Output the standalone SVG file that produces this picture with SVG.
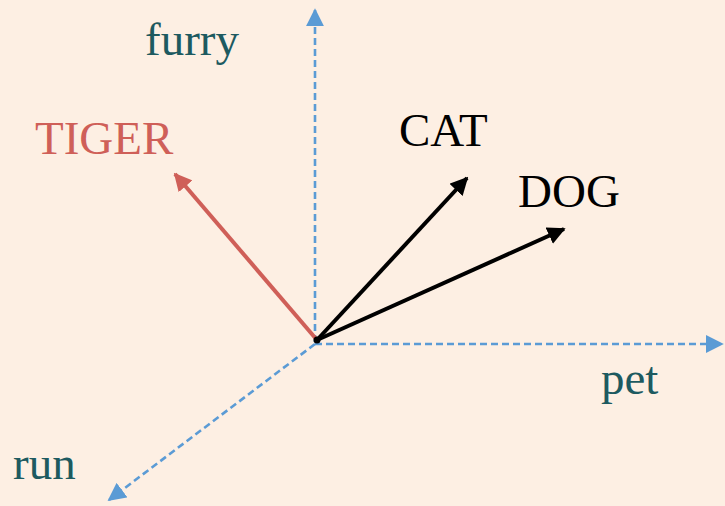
<svg xmlns="http://www.w3.org/2000/svg" width="725" height="506" viewBox="0 0 725 506">
<defs>
<style>
.axis{stroke:#5b9bd5;stroke-width:2.6;stroke-dasharray:7 4;fill:none}
.vec{stroke-width:4;fill:none}
.lbl{font-family:"Liberation Serif",serif;font-size:47px}
.ax{fill:#1d5a60}
</style>
<marker id="ab" viewBox="0 0 10 10" refX="9" refY="5" markerWidth="7" markerHeight="7" orient="auto" markerUnits="strokeWidth"><path d="M0,0 L10,5 L0,10 z" fill="#5b9bd5"/></marker>
<marker id="ak" viewBox="0 0 10 10" refX="9" refY="5" markerWidth="4.5" markerHeight="4.5" orient="auto" markerUnits="strokeWidth"><path d="M0,0 L10,5 L0,10 z" fill="#000"/></marker>
<marker id="ar" viewBox="0 0 10 10" refX="9" refY="5" markerWidth="4.5" markerHeight="4.5" orient="auto" markerUnits="strokeWidth"><path d="M0,0 L10,5 L0,10 z" fill="#cf5f58"/></marker>
</defs>
<rect width="725" height="506" fill="#fdefe3"/>
<g id="connectors">
<line class="axis" x1="315" y1="342" x2="315" y2="10" marker-end="url(#ab)"/>
<line class="axis" x1="315" y1="344" x2="722" y2="344" marker-end="url(#ab)"/>
<line class="axis" x1="315" y1="344" x2="109" y2="500" marker-end="url(#ab)"/>
<line class="vec" stroke="#cf5f58" x1="317" y1="340" x2="175" y2="174" marker-end="url(#ar)"/>
<line class="vec" stroke="#000" x1="317" y1="340" x2="467" y2="178" marker-end="url(#ak)"/>
<line class="vec" stroke="#000" x1="317" y1="340" x2="564" y2="229" marker-end="url(#ak)"/>
<circle cx="317" cy="340" r="3.5" fill="#000"/>
</g>
<g id="furry"><text class="lbl ax" x="145" y="55">furry</text></g>
<g id="pet"><text class="lbl ax" x="601" y="394">pet</text></g>
<g id="run"><text class="lbl ax" x="13" y="479">run</text></g>
<g id="tiger"><text class="lbl" fill="#cf5f58" x="35" y="154">TIGER</text></g>
<g id="cat"><text class="lbl" fill="#000" x="399" y="146">CAT</text></g>
<g id="dog"><text class="lbl" fill="#000" x="518" y="207">DOG</text></g>
</svg>
